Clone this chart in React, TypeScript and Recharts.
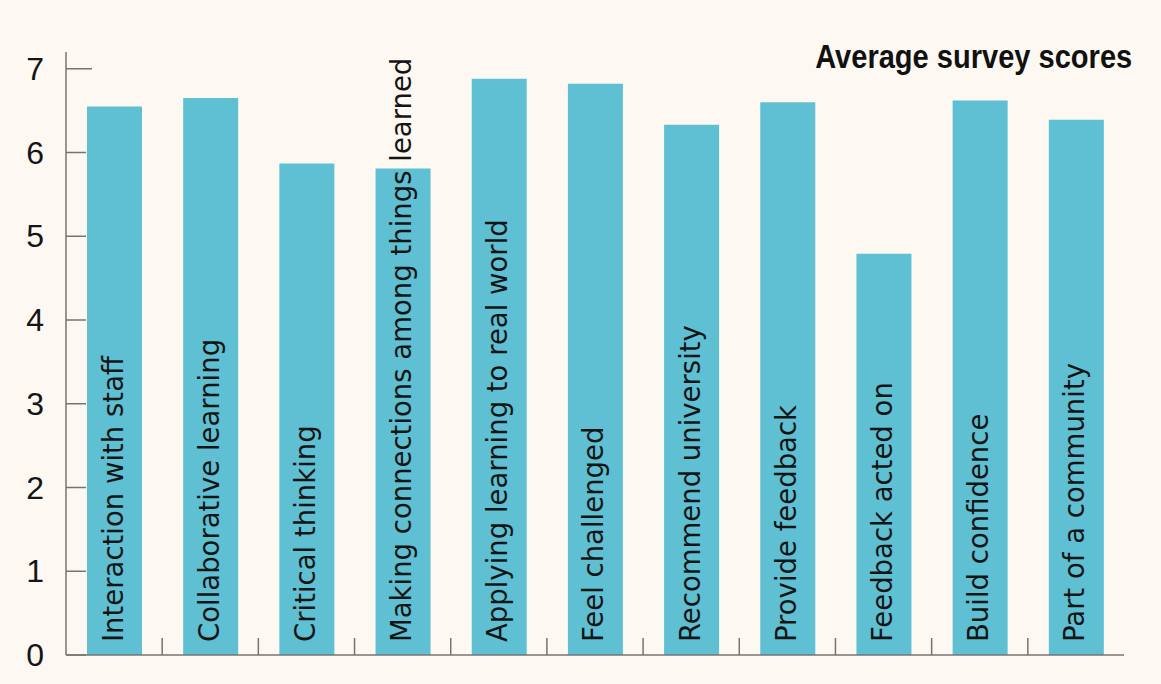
import React from 'react';
import { Bar, BarChart, LabelList, XAxis, YAxis } from 'recharts';

const categories = [
  'Interaction with staff',
  'Collaborative learning',
  'Critical thinking',
  'Making connections among things learned',
  'Applying learning to real world',
  'Feel challenged',
  'Recommend university',
  'Provide feedback',
  'Feedback acted on',
  'Build confidence',
  'Part of a community',
];

const scores = [6.55, 6.65, 5.87, 5.81, 6.88, 6.82, 6.33, 6.6, 4.79, 6.62, 6.39];

const yTicks = [0, 1, 2, 3, 4, 5, 6, 7];

const chartTitle = 'Average survey scores';

const data = categories.map((label, i) => ({ label, score: scores[i] }));

const BG = '#fdf9f2';
const BAR = '#5ec0d2';
const AXIS = '#747474';
const INK = '#151515';

const CHART_W = 1161;
const CHART_H = 684;
const PLOT_LEFT = 66;
const PLOT_RIGHT = 1124;
const BAND = (PLOT_RIGHT - PLOT_LEFT) / categories.length;

// y ticks: short mark pointing into the plot, number to the left of the axis
const YTick = (props: any) => {
  const { x, y, payload } = props;
  const len = payload.value === 7 ? 26 : 20;
  return (
    <g>
      <line x1={x} y1={y} x2={x + len} y2={y} stroke={AXIS} strokeWidth={1.5} />
      <text
        x={x - 22}
        y={y + 11}
        textAnchor="end"
        fontFamily="'Liberation Sans', Arial, sans-serif"
        fontSize={32}
        fill={INK}
      >
        {payload.value}
      </text>
    </g>
  );
};

// x ticks: small upright separators between the categories
const XTick = (props: any) => {
  const { x, y, index } = props;
  if (index >= categories.length - 1) return <g />;
  const sx = x + BAND / 2;
  return <line x1={sx} y1={y} x2={sx} y2={y - 17} stroke={AXIS} strokeWidth={1.5} />;
};

const BarText = (props: any) => {
  const { x, y, width, height, index } = props;
  const tx = x + width / 2 + 8;
  const ty = y + height - 13;
  return (
    <text
      x={tx}
      y={ty}
      transform={`rotate(-90 ${tx} ${ty})`}
      textAnchor="start"
      fontFamily="'DejaVu Sans', Verdana, sans-serif"
      fontSize={27.5}
      fill={INK}
    >
      {categories[index]}
    </text>
  );
};

export default function App() {
  return (
    <div
      style={{
        position: 'absolute',
        left: 0,
        top: 0,
        width: CHART_W,
        height: CHART_H,
        background: BG,
        overflow: 'hidden',
      }}
    >
      <BarChart
        width={CHART_W}
        height={CHART_H}
        data={data}
        margin={{ top: 52, right: CHART_W - PLOT_RIGHT, bottom: 0, left: -2 }}
        barSize={55}
      >
        <XAxis
          dataKey="label"
          height={29}
          axisLine={{ stroke: AXIS, strokeWidth: 1.5 }}
          tickLine={false}
          tickSize={0}
          tickMargin={0}
          interval={0}
          tick={<XTick />}
        />
        <YAxis
          width={PLOT_LEFT + 2}
          domain={[0, 7.2]}
          ticks={yTicks}
          axisLine={{ stroke: AXIS, strokeWidth: 1.5 }}
          tickLine={false}
          tickSize={0}
          tickMargin={0}
          tick={<YTick />}
        />
        <Bar dataKey="score" fill={BAR} isAnimationActive={false}>
          <LabelList dataKey="score" content={<BarText />} />
        </Bar>
      </BarChart>
      <div
        style={{
          position: 'absolute',
          right: CHART_W - 1132,
          top: 40,
          fontFamily: "'Liberation Sans', Arial, sans-serif",
          fontWeight: 700,
          fontSize: 33,
          lineHeight: '33px',
          color: '#111',
          whiteSpace: 'nowrap',
          transform: 'scaleX(0.88)',
          transformOrigin: 'right center',
        }}
      >
        {chartTitle}
      </div>
    </div>
  );
}
